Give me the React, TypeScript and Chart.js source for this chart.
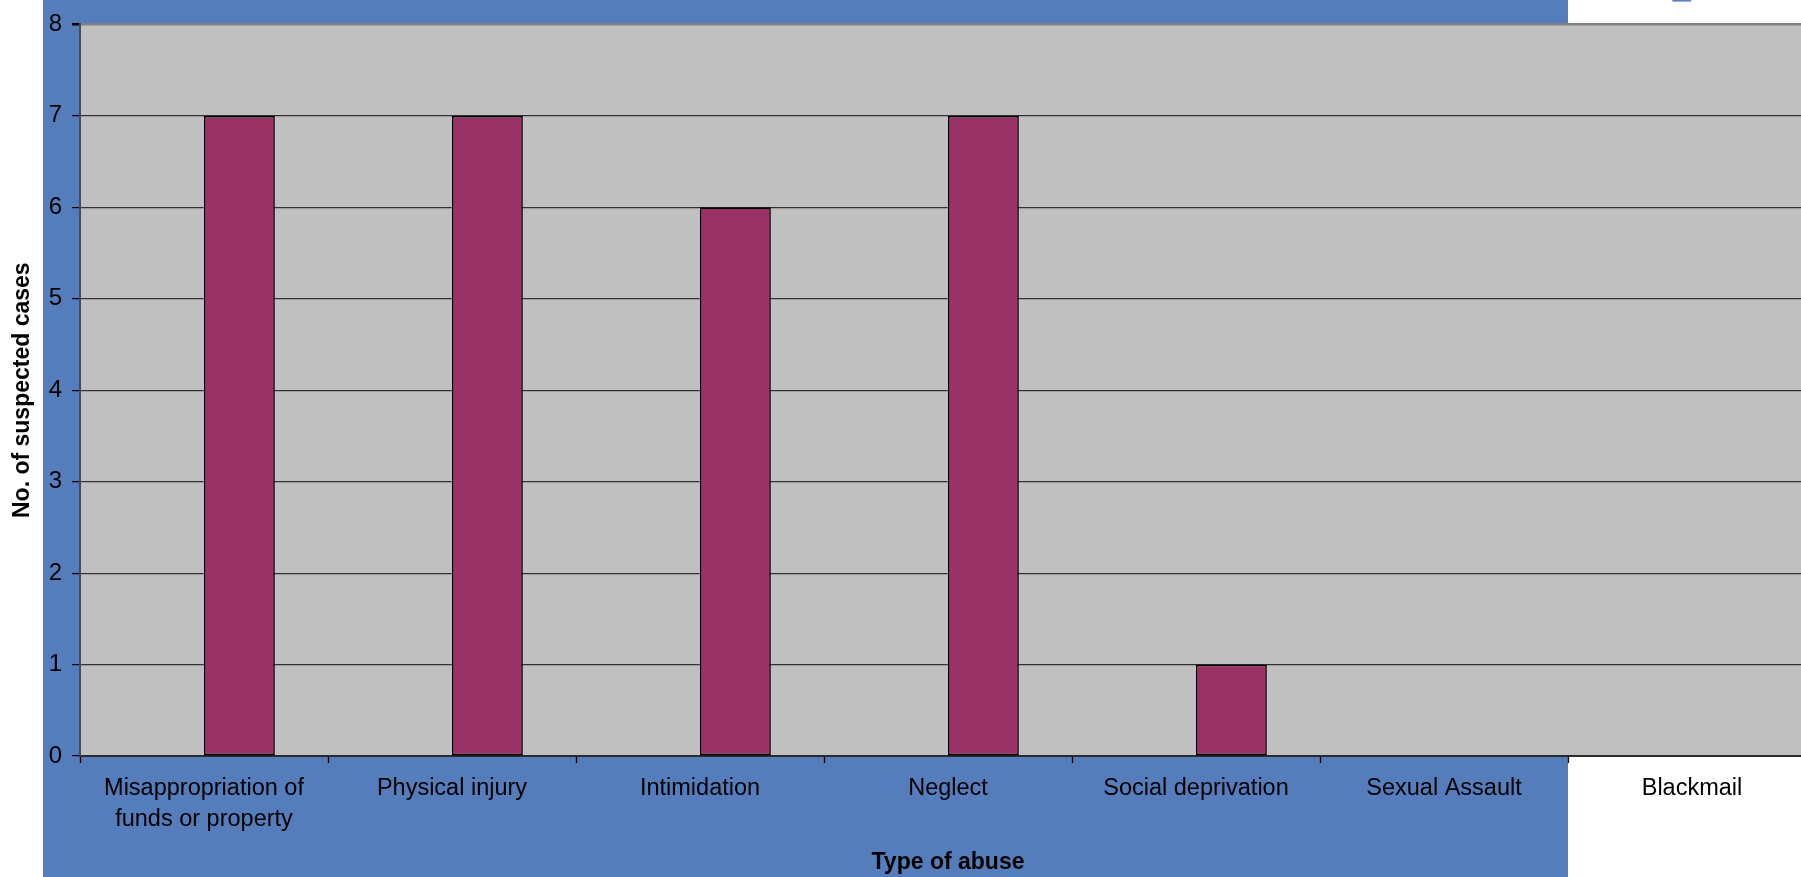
import React, { useEffect, useRef } from "react";
import { Chart, registerables } from "chart.js";

Chart.register(...registerables);

// ---- data ----
const categories: (string | string[])[] = [
  ["Misappropriation of", "funds or property"],
  "Physical injury",
  "Intimidation",
  "Neglect",
  "Social deprivation",
  "Sexual Assault",
  "Blackmail",
];
const series1Values = [0, 0, 0, 0, 0, 0, 0];
const series2Values = [7, 7, 6, 7, 1, 0, 0];
const yMin = 0;
const yMax = 8;
const yStep = 1;
const xTitle = "Type of abuse";
const yTitle = "No. of suspected cases";

// ---- styles ----
const FONT = "'Liberation Sans', Arial, Helvetica, sans-serif";
const BLUE_BG = "#557CBB";
const PLOT_BG = "#C0C0C0";
const BAR2 = "#993366";
const BAR1 = "#5A7FC4";

const bgPlugin = {
  id: "bgPlugin",
  beforeDraw(chart: any) {
    const { ctx, chartArea } = chart;
    ctx.save();
    ctx.fillStyle = "#FFFFFF";
    ctx.fillRect(0, 0, chart.width, chart.height);
    ctx.fillStyle = BLUE_BG;
    ctx.fillRect(43, 0, 1568 - 43, chart.height);
    ctx.fillStyle = PLOT_BG;
    ctx.fillRect(
      chartArea.left,
      chartArea.top,
      chartArea.right - chartArea.left,
      chartArea.bottom - chartArea.top
    );
    // partially visible legend sample (cropped at top)
    ctx.fillStyle = BAR1;
    ctx.fillRect(1672, -18, 19, 19.5);
    ctx.strokeStyle = "#9DB4E2";
    ctx.lineWidth = 1;
    ctx.strokeRect(1672.5, -18, 18.5, 19.5);
    ctx.restore();
  },
};

export default function App() {
  const ref = useRef<HTMLCanvasElement | null>(null);

  useEffect(() => {
    document.body.style.margin = "0";
    document.body.style.overflow = "hidden";
    document.documentElement.style.overflow = "hidden";
    if (!ref.current) return;
    const chart = new Chart(ref.current, {
      type: "bar",
      data: {
        labels: categories as any,
        datasets: [
          {
            label: "Series 1",
            data: series1Values,
            backgroundColor: BAR1,
            borderColor: "#000000",
            borderWidth: 0,
            categoryPercentage: 2 / 3.5,
            barPercentage: 1,
          },
          {
            label: "Suspected cases",
            data: series2Values,
            backgroundColor: BAR2,
            borderColor: "#000000",
            borderWidth: 1.6,
            borderSkipped: false,
            categoryPercentage: 2 / 3.5,
            barPercentage: 1,
          },
        ],
      },
      options: {
        animation: false,
        responsive: false,
        maintainAspectRatio: false,
        layout: { padding: { top: 23, left: 0, right: 0, bottom: 0 } },
        plugins: {
          legend: { display: false },
          tooltip: { enabled: false },
          title: { display: false },
        },
        scales: {
          x: {
            type: "category",
            offset: true,
            grid: {
              offset: true,
              drawOnChartArea: false,
              drawTicks: true,
              tickLength: 7,
              tickColor: "#000000",
              tickWidth: 1.3,
            },
            border: { display: true, color: "#2a2a2a", width: 2 },
            ticks: {
              autoSkip: false,
              maxRotation: 0,
              minRotation: 0,
              padding: 10,
              color: "#000000",
              font: { family: FONT, size: 23.5, lineHeight: 1.32 },
            },
            title: {
              display: true,
              text: xTitle,
              color: "#000000",
              font: { family: FONT, size: 23, weight: "bold", lineHeight: 1.2 },
              padding: { top: 0, bottom: 1 },
            },
            afterFit(scale: any) {
              scale.height = 121;
            },
          },
          y: {
            min: yMin,
            max: yMax,
            ticks: {
              stepSize: yStep,
              padding: 10,
              color: "#000000",
              font: { family: FONT, size: 24 },
            },
            grid: {
              drawTicks: true,
              tickLength: 8,
              tickColor: "#000000",
              color: (ctx: any) =>
                ctx.tick && ctx.tick.value === yMax ? "#808080" : "#333333",
              lineWidth: (ctx: any) =>
                ctx.tick && ctx.tick.value === yMax ? 2.5 : 1.2,
            },
            border: { display: true, color: "#4a4a4a", width: 2 },
            title: {
              display: true,
              text: yTitle,
              color: "#000000",
              font: { family: FONT, size: 23, weight: "bold", lineHeight: 1.2 },
              padding: { top: 9, bottom: 0 },
            },
            afterFit(scale: any) {
              scale.width = 80;
            },
          },
        },
      },
      plugins: [bgPlugin],
    } as any);
    return () => chart.destroy();
  }, []);

  return (
    <div
      style={{
        position: "fixed",
        left: 0,
        top: 0,
        width: 1816,
        height: 877,
        background: "#FFFFFF",
      }}
    >
      <canvas
        ref={ref}
        width={1816}
        height={877}
        style={{ display: "block", width: 1816, height: 877 }}
      />
    </div>
  );
}
